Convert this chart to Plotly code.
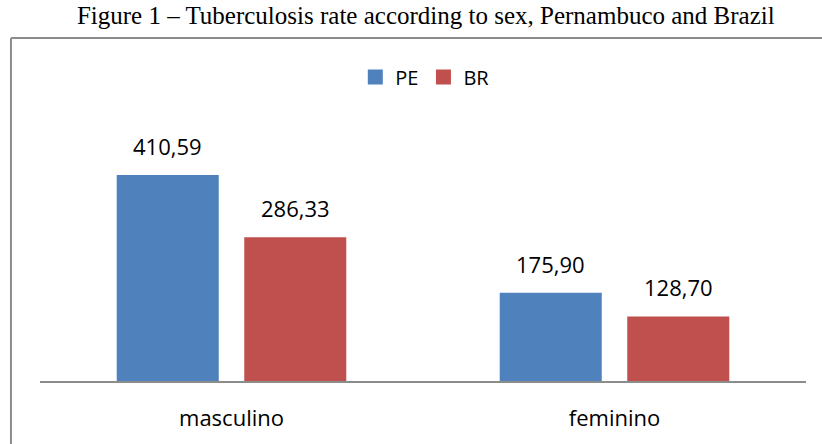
import plotly.graph_objects as go

categories = ["masculino", "feminino"]
pe_values = [410.59, 175.90]
br_values = [286.33, 128.70]
series_names = ["PE", "BR"]
value_labels_pe = ["410,59", "175,90"]
value_labels_br = ["286,33", "128,70"]

colors = ["#4F81BD", "#C0504D"]
bargap = 0.334
sans = "Open Sans, Liberation Sans, sans-serif"
label_font = dict(family=sans, size=22, color="#000000")

fig = go.Figure()
for name, vals, col in zip(series_names, [pe_values, br_values], colors):
    fig.add_trace(go.Bar(x=categories, y=vals, name=name, showlegend=False,
                         marker=dict(color=col, line=dict(width=0))))
# legend entries with larger square symbols
for name, col in zip(series_names, colors):
    fig.add_trace(go.Scatter(x=[None], y=[None], mode="markers", name=name,
                             marker=dict(symbol="square", size=15, color=col)))

offset = (1 - bargap) / 4
for vals, labs, sign in [(pe_values, value_labels_pe, -1), (br_values, value_labels_br, 1)]:
    for j, (v, lab) in enumerate(zip(vals, labs)):
        fig.add_annotation(x=j + sign * offset, y=v, text=lab, showarrow=False,
                           xref="x", yref="y", yanchor="bottom", yshift=12,
                           font=label_font)

# outer border (top and left edges visible, the rest runs off the page)
border = dict(color="#8C8C8C", width=2)
fig.add_shape(type="line", xref="paper", yref="paper",
              x0=-0.0379, x1=1.03, y0=1.2206, y1=1.2206, line=border, layer="below")
fig.add_shape(type="line", xref="paper", yref="paper",
              x0=-0.0379, x1=-0.0379, y0=-0.25, y1=1.2206, line=border, layer="below")

fig.update_layout(
    width=822, height=444,
    margin=dict(l=40, r=16, t=100, b=63, autoexpand=False),
    paper_bgcolor="white", plot_bgcolor="white",
    title=dict(text="Figure 1 – Tuberculosis rate according to sex, Pernambuco and Brazil",
               font=dict(family="Liberation Serif, Times New Roman, serif", size=25, color="#000000"),
               x=0.518, xanchor="center", xref="container",
               y=1 - 15 / 444, yanchor="middle", yref="container"),
    barmode="group", bargap=bargap, bargroupgap=0.2,
    showlegend=True,
    legend=dict(orientation="h", x=0.503, xanchor="center", y=1.082, yanchor="middle",
                font=dict(family=sans, size=20, color="#000000"),
                bgcolor="rgba(0,0,0,0)", traceorder="normal", itemwidth=30),
    xaxis=dict(showline=True, linecolor="#8C8C8C", linewidth=2, showgrid=False,
               ticks="", ticklabelstandoff=17, range=[-0.5, 1.5], automargin=False,
               tickfont=dict(family=sans, size=22, color="#000000")),
    yaxis=dict(range=[0, 560], visible=False, showgrid=False, zeroline=False, automargin=False),
)

fig.write_html("out.html", config={"displayModeBar": False},
               post_script="document.body.style.margin='0';document.body.style.overflow='hidden';")
